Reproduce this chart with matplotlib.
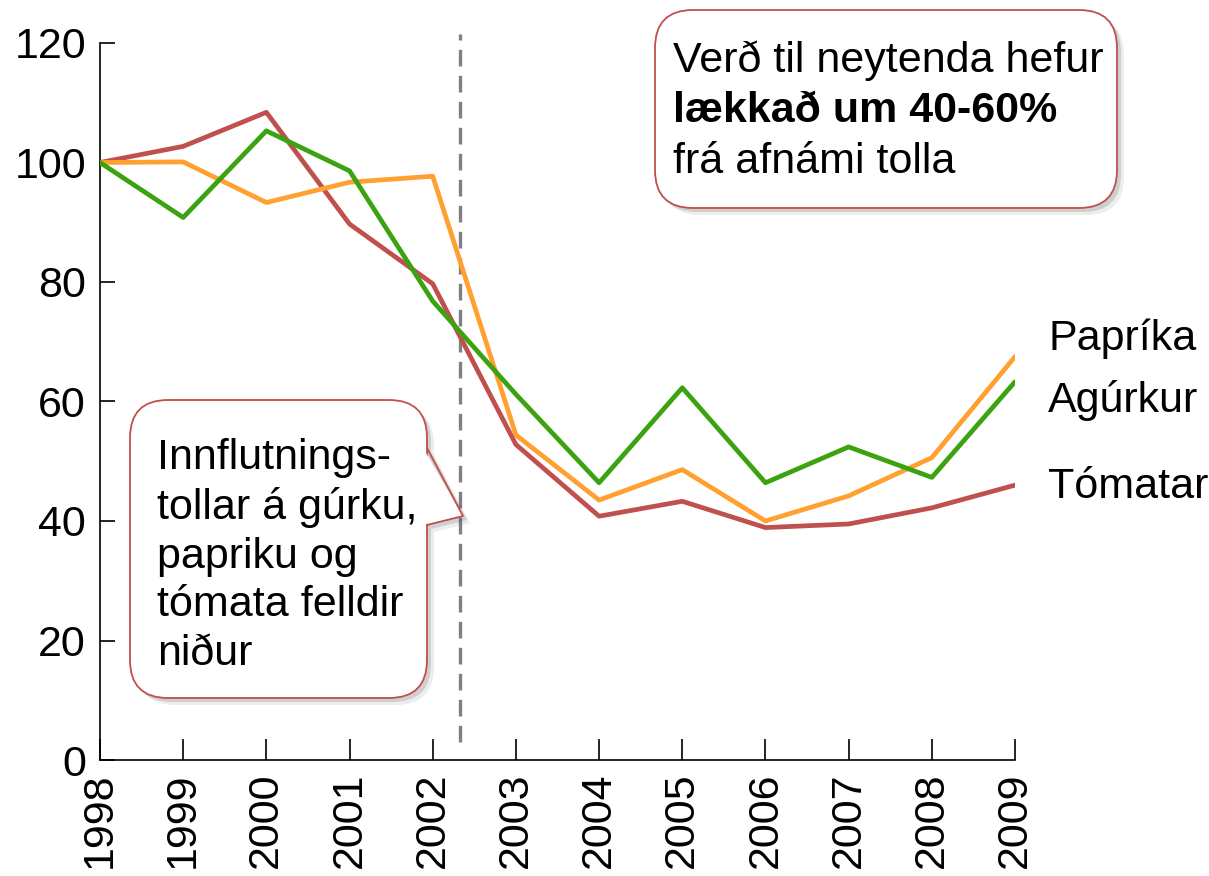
import numpy as np
import matplotlib
matplotlib.use("Agg")
import matplotlib.pyplot as plt
from matplotlib.patches import FancyBboxPatch, Polygon

plt.rcParams['font.family'] = ['Liberation Sans', 'DejaVu Sans']

# Gögn (vísitala, 1998 = 100)
years = np.arange(1998, 2010)
tomatar = [100, 102.7, 108.4, 89.7, 79.7, 52.8, 40.8, 43.3, 38.9, 39.5, 42.2, 46.0]
agurkur = [100, 90.8, 105.3, 98.6, 76.8, 61.2, 46.4, 62.3, 46.4, 52.4, 47.3, 63.3]
paprika = [100, 100.1, 93.3, 96.7, 97.7, 54.4, 43.5, 48.6, 40.0, 44.2, 50.6, 67.5]
series_names = ['Papríka', 'Agúrkur', 'Tómatar']
label_y = [70.5, 60.2, 45.7]
tollar_felldir = 2002.33

RED = '#c0504d'
GREEN = '#3aa30f'
ORANGE = '#ffa030'
FS = 31

W, H = 1209, 876
fig = plt.figure(figsize=(W / 100, H / 100), dpi=100)
ax = fig.add_axes([100 / W, 1 - 760 / H, 915 / W, (760 - 43) / H])

ax.plot(years, tomatar, color=RED, lw=3.4, solid_capstyle='round', zorder=3)
ax.plot(years, paprika, color=ORANGE, lw=3.4, solid_capstyle='round', zorder=4)
ax.plot(years, agurkur, color=GREEN, lw=3.4, solid_capstyle='round', zorder=5)

ax.plot([tollar_felldir, tollar_felldir], [3, 121.5], color='#808080', lw=2.4,
        dashes=(5, 2.8), clip_on=False, zorder=2)

ax.set_xlim(1998, 2009)
ax.set_ylim(0, 120)
ax.set_yticks(range(0, 121, 20))
ax.set_xticks(years)
ax.set_xticklabels([str(y) for y in years], rotation=90, fontsize=FS)
ax.tick_params(axis='y', labelsize=FS, direction='in', length=11, width=1.2, pad=10)
ax.tick_params(axis='x', direction='in', length=15, width=1.2, pad=9)
for s in ['top', 'right']:
    ax.spines[s].set_visible(False)
for s in ['left', 'bottom']:
    ax.spines[s].set_linewidth(1.2)

for name, yv in zip(series_names, label_y):
    ax.text(2009.4, yv, name, fontsize=FS, va='center', ha='left', clip_on=False)

# Yfirlag í pixlahnitum fyrir útskýringarkassa
ov = fig.add_axes([0, 0, 1, 1], zorder=10)
ov.set_xlim(0, W)
ov.set_ylim(H, 0)
ov.axis('off')
ov.patch.set_alpha(0)


def callout(x0, y0, x1, y1, pointer=None):
    # skuggi
    for off, a in [(4, 0.20), (7, 0.10)]:
        ov.add_patch(FancyBboxPatch((x0 + off, y0 + off), x1 - x0, y1 - y0,
                                    boxstyle='round,pad=0,rounding_size=38',
                                    fc='#555555', ec='none', alpha=a))
        if pointer is not None:
            ov.add_patch(Polygon([(p[0] + off, p[1] + off) for p in pointer],
                                 fc='#555555', ec='none', alpha=a))
    ov.add_patch(FancyBboxPatch((x0, y0), x1 - x0, y1 - y0,
                                boxstyle='round,pad=0,rounding_size=38',
                                fc='white', ec=RED, lw=1.3))
    if pointer is not None:
        (ax_, ay), tip, (bx, by) = pointer
        ov.add_patch(Polygon([(ax_ - 4, ay), tip, (bx - 4, by)], fc='white', ec='none'))
        ov.plot([ax_, tip[0], bx], [ay, tip[1], by], color=RED, lw=1.3)


callout(655, 10, 1117, 208)
ov.text(673, 40, 'Verð til neytenda hefur', fontsize=FS, va='top', ha='left')
ov.text(673, 91, 'lækkað um 40-60%', fontsize=FS, va='top', ha='left', weight='bold')
ov.text(673, 142, 'frá afnámi tolla', fontsize=FS, va='top', ha='left')

callout(130, 400, 427, 698, pointer=[(427, 448), (463, 516), (427, 525)])
ov.text(157, 438, 'Innflutnings-\ntollar á gúrku,\npapriku og\ntómata felldir\nniður',
        fontsize=FS, va='top', ha='left', linespacing=1.28)

fig.savefig('out.png', dpi=100)
